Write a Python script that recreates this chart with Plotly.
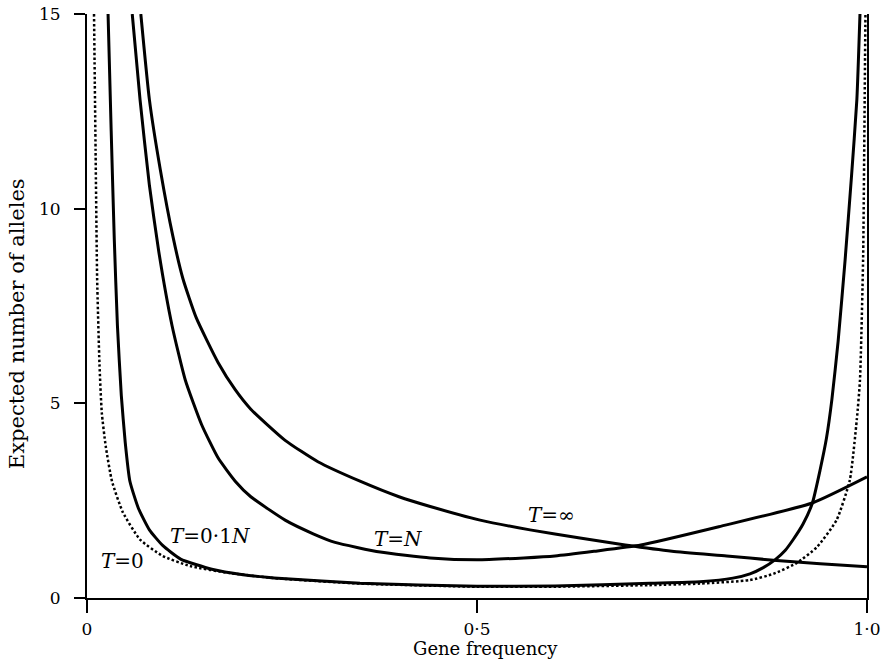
import plotly.graph_objects as go

# ---- data ----
# T = 0 (dotted)
t0_x = [0.009, 0.011, 0.013, 0.016, 0.019, 0.024, 0.032, 0.046, 0.068, 0.097, 0.132, 0.183, 0.247,
        0.35, 0.5, 0.6, 0.72, 0.786, 0.85, 0.88, 0.91, 0.936, 0.961, 0.978, 0.987, 0.991, 0.995,
        0.997, 0.998]
t0_y = [15.0, 11.5, 8.2, 6.0, 4.75, 3.9, 3.0, 2.2, 1.5, 1.08, 0.82, 0.64, 0.5,
        0.37, 0.29, 0.29, 0.33, 0.37, 0.46, 0.62, 0.9, 1.31, 2.0, 3.03, 4.6, 5.6, 8.7,
        12.8, 15.0]

# T = 0.1N
t01_x = [0.027, 0.031, 0.035, 0.039, 0.044, 0.049, 0.055, 0.066, 0.08, 0.097, 0.12, 0.16, 0.2,
         0.25, 0.35, 0.5, 0.6, 0.722, 0.786, 0.828, 0.85, 0.867, 0.882, 0.895, 0.905, 0.918,
         0.93, 0.94, 0.948, 0.955, 0.963, 0.972, 0.98, 0.987, 0.991]
t01_y = [15.0, 12.0, 9.2, 7.0, 5.2, 4.0, 3.0, 2.3, 1.75, 1.35, 1.0, 0.74, 0.6,
         0.5, 0.38, 0.3, 0.31, 0.38, 0.42, 0.51, 0.62, 0.78, 0.98, 1.22, 1.49, 1.9,
         2.44, 3.3, 4.1, 5.1, 6.6, 8.7, 10.8, 12.8, 15.0]

# T = N
tn_x = [0.058, 0.068, 0.08, 0.092, 0.109, 0.126, 0.147, 0.168, 0.19, 0.21, 0.254, 0.29, 0.318,
        0.376, 0.44, 0.5, 0.56, 0.6, 0.65, 0.71, 0.81, 0.93, 1.0]
tn_y = [15.0, 12.8, 10.6, 8.9, 7.0, 5.6, 4.45, 3.6, 3.0, 2.6, 2.0, 1.65, 1.43,
        1.18, 1.03, 0.98, 1.03, 1.08, 1.2, 1.36, 1.83, 2.44, 3.11]

# T = infinity
tinf_x = [0.069, 0.08, 0.094, 0.11, 0.123, 0.14, 0.168, 0.19, 0.21, 0.254, 0.296, 0.35, 0.4,
          0.44, 0.504, 0.568, 0.632, 0.69, 0.75, 0.82, 0.88, 0.94, 1.0]
tinf_y = [15.0, 12.8, 11.0, 9.3, 8.2, 7.2, 6.05, 5.35, 4.85, 4.05, 3.5, 3.0, 2.6,
          2.35, 2.0, 1.75, 1.54, 1.36, 1.2, 1.08, 0.97, 0.88, 0.8]

# curve labels (x, y, text)
label_x = [0.046, 0.158, 0.399, 0.596]
label_y = [0.95, 1.59, 1.52, 2.14]
label_text = ["<i>T</i>=0", "<i>T</i>=0·1<i>N</i>", "<i>T</i>=<i>N</i>", "<i>T</i>=∞"]

x_tickvals = [0, 0.5, 1.0]
x_ticktext = ["0", "0·5", "1·0"]
y_tickvals = [0, 5, 10, 15]
y_ticktext = ["0", "5", "10", "15"]
x_title = "Gene frequency"
y_title = "Expected number of alleles"

FONT = "DejaVu Serif"

fig = go.Figure()
fig.add_trace(go.Scatter(x=t0_x, y=t0_y, mode="lines", name="T=0",
                         line=dict(color="black", width=2.5, dash="2.5px,2.3px",
                                   shape="spline", smoothing=0.5)))
for xs, ys, nm in [(t01_x, t01_y, "T=0.1N"), (tn_x, tn_y, "T=N"), (tinf_x, tinf_y, "T=inf")]:
    fig.add_trace(go.Scatter(x=xs, y=ys, mode="lines", name=nm,
                             line=dict(color="black", width=3, shape="spline", smoothing=0.5)))

for lx, ly, lt in zip(label_x, label_y, label_text):
    fig.add_annotation(x=lx, y=ly, text=lt, showarrow=False, xanchor="center", yanchor="middle",
                       font=dict(family=FONT, size=20, color="black"))

# axis titles placed as in the reference
fig.add_annotation(xref="paper", yref="paper", x=0.5115, y=-0.0873, text=x_title,
                   showarrow=False, xanchor="center", yanchor="middle",
                   font=dict(family=FONT, size=18, color="black"))
fig.add_annotation(xref="paper", yref="paper", x=-0.0897, y=0.469, text=y_title, textangle=-90,
                   showarrow=False, xanchor="center", yanchor="middle",
                   font=dict(family=FONT, size=21, color="black"))

fig.update_layout(
    width=883, height=671,
    margin=dict(l=87, r=16, t=14, b=73, autoexpand=False),
    paper_bgcolor="white", plot_bgcolor="white",
    showlegend=False,
    font=dict(family=FONT, size=17, color="black"),
    xaxis=dict(range=[0, 1], tickvals=x_tickvals, ticktext=x_ticktext, automargin=False,
               ticks="outside", ticklen=13, tickwidth=2, tickcolor="black", ticklabelstandoff=2,
               ticklabeloverflow="allow",
               showline=True, linewidth=2, linecolor="black",
               showgrid=False, zeroline=False),
    yaxis=dict(range=[0, 15], tickvals=y_tickvals, ticktext=y_ticktext, automargin=False,
               ticks="outside", ticklen=11, tickwidth=2, tickcolor="black", ticklabelstandoff=10,
               ticklabeloverflow="allow",
               showline=True, linewidth=2, linecolor="black", mirror=True,
               showgrid=False, zeroline=False),
)

fig.write_html("out.html", config={"displayModeBar": False},
               post_script="document.body.style.margin='0';")
